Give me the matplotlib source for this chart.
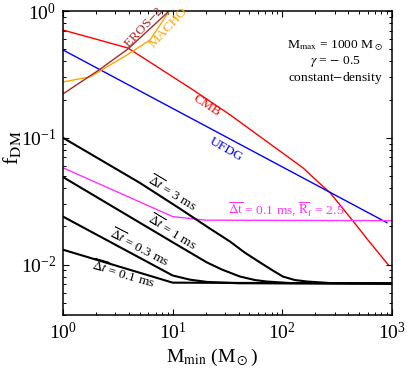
import numpy as np
import matplotlib
matplotlib.use('Agg')
import matplotlib.pyplot as plt
from matplotlib.ticker import LogLocator, NullFormatter

plt.rcParams['font.family'] = 'serif'
plt.rcParams['font.serif'] = ['Liberation Serif', 'DejaVu Serif']
plt.rcParams['mathtext.fontset'] = 'stix'

# curves (M_min in M_sun, f_DM)
m_3ms = [1, 5, 11.65, 21.9, 33.3, 45.6, 62.5, 82, 101, 130, 168, 272, 1000]
f_3ms = [0.1, 0.0442, 0.0276, 0.0192, 0.0152, 0.0124, 0.0104, 0.00897, 0.00805, 0.00755,
         0.00735, 0.00715, 0.00709]
m_1ms = [1, 10, 16.0, 20.5, 28.1, 41, 56.3, 72, 117, 1000]
f_1ms = [0.049, 0.015, 0.0118, 0.0104, 0.00914, 0.00805, 0.00755, 0.00735, 0.00715, 0.00709]
m_03ms = [1, 10, 14.4, 20.5, 40, 1000]
f_03ms = [0.0239, 0.0082, 0.0076, 0.0073, 0.00712, 0.00709]
m_01ms = [1, 10, 1000]
f_01ms = [0.0131, 0.0072, 0.00709]

m_rf = [1, 10, 20, 1000]
f_rf = [0.058, 0.0239, 0.0224, 0.0222]

m_cmb = [1, 3.91, 15.3, 33.3, 154, 211, 272, 431, 590, 920]
f_cmb = [0.708, 0.511, 0.239, 0.152, 0.058, 0.045, 0.0369, 0.0226, 0.016, 0.0100]
m_ufdg = [1, 899]
f_ufdg = [0.493, 0.0214]
m_macho = [1, 1.76, 3.83, 6.21, 9.06, 9.5]
f_macho = [0.276, 0.302, 0.45, 0.591, 0.964, 1.05]
m_eros = [1, 2.13, 3.91, 8.87, 9.5]
f_eros = [0.222, 0.343, 0.502, 0.964, 1.05]

fig = plt.figure(figsize=(4.07, 3.70), dpi=100)
ax = fig.add_axes([0.1548, 0.1486, 0.8084, 0.8216])

ax.plot(m_cmb, f_cmb, color='#ff0000', lw=1.0)
ax.plot(m_ufdg, f_ufdg, color='#0000ff', lw=1.0)
ax.plot(m_macho, f_macho, color='#ffa500', lw=1.0)
ax.plot(m_eros, f_eros, color='#a52a2a', lw=1.0)
ax.plot(m_rf, f_rf, color='#ff33ff', lw=1.0)
for m, f in [(m_3ms, f_3ms), (m_1ms, f_1ms), (m_03ms, f_03ms), (m_01ms, f_01ms)]:
    ax.plot(m, f, color='black', lw=1.5)

ax.set_xscale('log')
ax.set_yscale('log')
ax.set_xlim(1, 1000)
ax.set_ylim(0.004, 1)

ax.tick_params(which='both', direction='in', top=True, right=True, labelsize=14, pad=5)
ax.tick_params(which='major', length=4.5, width=0.8)
ax.tick_params(which='minor', length=2.5, width=0.7)
ax.xaxis.set_minor_locator(LogLocator(base=10, subs=np.arange(2, 10)))
ax.yaxis.set_minor_locator(LogLocator(base=10, subs=np.arange(2, 10)))
ax.xaxis.set_minor_formatter(NullFormatter())
ax.yaxis.set_minor_formatter(NullFormatter())
for s in ax.spines.values():
    s.set_linewidth(1.1)

ax.set_xlabel(r'M$_{\rm min}$ (M$_\odot$)', fontsize=14)
ax.set_ylabel(r'f$_{\rm DM}$', fontsize=16)
ax.xaxis.set_label_coords(0.453, -0.105)
ax.yaxis.set_label_coords(-0.122, 0.549)

fs = 9.7
ax.text(5.47, 0.735, r'EROS$-$2', color='#a52a2a', fontsize=fs, rotation=47, ha='center', va='center')
ax.text(9.25, 0.735, 'MACHO', color='#ffa500', fontsize=fs, rotation=47, ha='center', va='center')
ax.text(20.5, 0.179, 'CMB', color='#ff0000', fontsize=fs, rotation=-33, ha='center', va='center')
ax.text(30.6, 0.0805, 'UFDG', color='#0000ff', fontsize=fs, rotation=-30, ha='center', va='center')
ax.text(9.85, 0.0369, r'$\overline{\Delta t}$ = 3 ms', fontsize=fs, rotation=-31, ha='center', va='center')
ax.text(9.85, 0.0179, r'$\overline{\Delta t}$ = 1 ms', fontsize=fs, rotation=-31, ha='center', va='center')
ax.text(4.93, 0.0136, r'$\overline{\Delta t}$ = 0.3 ms', fontsize=fs, rotation=-27, ha='center', va='center')
ax.text(3.52, 0.0084, r'$\overline{\Delta t}$ = 0.1 ms', fontsize=fs, rotation=-16, ha='center', va='center')
ax.text(31.9, 0.0276, r'$\overline{\Delta\mathrm{t}}$ = 0.1 ms, $\overline{\mathrm{R}}_{\rm f}$ = 2.5',
        color='#ff33ff', fontsize=fs, ha='left', va='center')

ax.text(0.827, 0.832, 'M$_{\\rm max}$ = 1000 M$_\\odot$\n$\\gamma$ = $-$ 0.5\nconstant$-$density',
        transform=ax.transAxes, fontsize=fs, ha='center', va='center', linespacing=1.1)

fig.savefig('out.png', dpi=100)
